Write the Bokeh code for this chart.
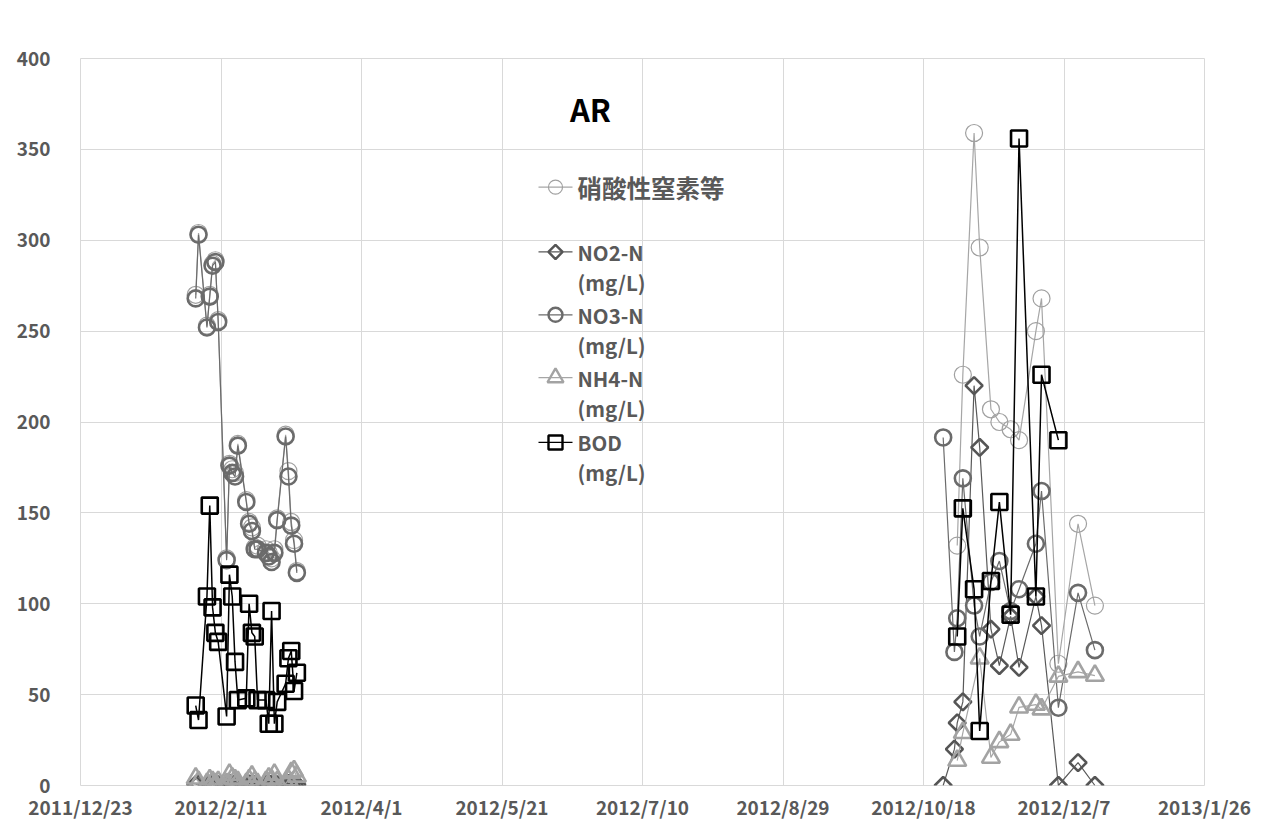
import math
import pandas as pd
from bokeh.plotting import figure
from bokeh.models import Range1d, FixedTicker
from bokeh.core.properties import value
from bokeh.embed import file_html
from bokeh.resources import INLINE

# ---------------- data ----------------
BASE = "2011-12-23"
TICK_STEP_DAYS = 50
N_TICKS = 9

dates_feb = ["2012-02-02", "2012-02-03", "2012-02-06", "2012-02-07", "2012-02-08", "2012-02-09",
             "2012-02-10", "2012-02-13", "2012-02-14", "2012-02-15", "2012-02-16", "2012-02-17",
             "2012-02-20", "2012-02-21", "2012-02-22", "2012-02-23", "2012-02-24", "2012-02-27",
             "2012-02-28", "2012-02-29", "2012-03-01", "2012-03-02", "2012-03-05", "2012-03-06",
             "2012-03-07", "2012-03-08", "2012-03-09"]
dates_nov = ["2012-10-25", "2012-10-29", "2012-10-30", "2012-11-01", "2012-11-05", "2012-11-07",
             "2012-11-11", "2012-11-14", "2012-11-18", "2012-11-21", "2012-11-27", "2012-11-29",
             "2012-12-05", "2012-12-12", "2012-12-18"]

total_feb = [270, 304, 253, 270, 287, 289, 256, 125, 177, 174, 172, 188, 157, 145, 142, 131, 132,
             130, 128, 125, 130, 147, 193, 173, 145, 135, 118]
total_nov = [None, None, 132, 226, 359, 296, 207, 200, 196, 190, 250, 268, 67, 144, 99]

no2_feb = [0.5, 1, 0.3, 0.8, 1, 0.5, 0.4, 0.6, 1.2, 0.8, 0.5, 0.3, 0.6, 0.9, 0.7, 0.4, 0.5, 0.8,
           1, 0.6, 0.4, 0.5, 0.7, 1.1, 0.8, 0.6, 0.5]
no2_nov = [0, 20, 34.5, 46, 220, 186, 86, 66, 93, 65, 104, 88, 0, 12.6, 0]

no3_feb = [268, 303, 252, 269, 286, 288, 255, 124, 176, 172, 170, 187, 156, 144, 140, 130, 130,
           128, 126, 123, 128, 146, 192, 170, 143, 133, 117]
no3_nov = [191.5, 73.5, 92, 169, 99, 82, 112, 123.5, 96, 108, 133, 162, 42.8, 106, 74.5]

nh4_feb = [4, 2, 1, 3, 2, 1, 2, 1, 6, 4, 3, 2, 1, 3, 5, 2, 1, 2, 4, 3, 6, 2, 1, 3, 7, 8, 5]
nh4_nov = [None, None, 13.7, 29, None, 70, 15.4, 24, 28, 43, 44.5, 42, 60, 62.5, 60.5]

bod_feb = [44, 36, 104, 154, 98, 84, 79, 38, 116, 104, 68, 47, 48, 100, 84, 82, 47, 47, 34, 96,
           34, 46, 56, 70, 74, 52, 62]
bod_nov = [None, None, 82, 152.5, 108, 30, 112.5, 156, 94, 356, 104, 226, 190, None, None]

y_ticks = [0, 50, 100, 150, 200, 250, 300, 350, 400]
title_text = "AR"

series = [
    dict(label=["硝酸性窒素等"], feb=total_feb, nov=total_nov, marker="circle", color="#a0a0a0",
         size=17, mlw=1.2, line_color="#a6a6a6", line_w=1.2, angle=0, lsize=14, llw=1.2),
    dict(label=["NO2-N", "(mg/L)"], feb=no2_feb, nov=no2_nov, marker="square", color="#555555",
         size=12, mlw=2.6, line_color="#595959", line_w=1.2, angle=math.pi / 4, lsize=10, llw=2.4),
    dict(label=["NO3-N", "(mg/L)"], feb=no3_feb, nov=no3_nov, marker="circle", color="#6b6b6b",
         size=16, mlw=2.6, line_color="#6b6b6b", line_w=1.2, angle=0, lsize=14, llw=2.4),
    dict(label=["NH4-N", "(mg/L)"], feb=nh4_feb, nov=nh4_nov, marker="triangle", color="#a3a3a3",
         size=18, mlw=2.6, line_color="#a6a6a6", line_w=1.2, angle=0, lsize=16, llw=2.4),
    dict(label=["BOD", "(mg/L)"], feb=bod_feb, nov=bod_nov, marker="square", color="#000000",
         size=16, mlw=2.6, line_color="#000000", line_w=1.5, angle=0, lsize=14, llw=2.4),
]

# ---------------- helpers ----------------
base_ts = pd.Timestamp(BASE)


def to_xy(dates, vals):
    xs, ys = [], []
    for d, v in zip(dates, vals):
        if v is not None:
            xs.append((pd.Timestamp(d) - base_ts).days)
            ys.append(v)
    return xs, ys


tick_days = [i * TICK_STEP_DAYS for i in range(N_TICKS)]
tick_labels = {}
for t in tick_days:
    d = base_ts + pd.Timedelta(days=t)
    tick_labels[t] = f"{d.year}/{d.month}/{d.day}"

# ---------------- figure ----------------
FRAME_W, FRAME_H = 1124, 729
p = figure(width=1262, height=822, x_range=Range1d(0, tick_days[-1]), y_range=Range1d(0, 400),
           output_backend="svg", toolbar_location=None,
           min_border_left=80, min_border_right=58, min_border_top=58, min_border_bottom=30)
p.outline_line_color = "#d9d9d9"
p.background_fill_color = "white"
p.border_fill_color = "white"

TICK_FONT = "Noto Sans CJK JP"
for ax in (p.xaxis, p.yaxis):
    ax.axis_line_color = None
    ax.major_tick_line_color = None
    ax.minor_tick_line_color = None
    ax.major_label_text_font = TICK_FONT
    ax.major_label_text_font_style = "bold"
    ax.major_label_text_color = "#595959"
p.xaxis.major_label_text_font_size = "19px"
p.yaxis.major_label_text_font_size = "19px"
p.xaxis.ticker = FixedTicker(ticks=tick_days)
p.xaxis.major_label_overrides = tick_labels
p.xaxis.major_label_standoff = 1
p.yaxis.ticker = FixedTicker(ticks=y_ticks)
p.yaxis.major_label_standoff = 24
p.xgrid.ticker = FixedTicker(ticks=tick_days)
p.ygrid.ticker = FixedTicker(ticks=y_ticks)
p.grid.grid_line_color = "#d9d9d9"
p.grid.grid_line_width = 1

# data
for s in series:
    for dates, vals in ((dates_feb, s["feb"]), (dates_nov, s["nov"])):
        xs, ys = to_xy(dates, vals)
        p.line(xs, ys, line_color=s["line_color"], line_width=s["line_w"])
    xs1, ys1 = to_xy(dates_feb, s["feb"])
    xs2, ys2 = to_xy(dates_nov, s["nov"])
    p.scatter(xs1 + xs2, ys1 + ys2, marker=s["marker"], size=s["size"], angle=s["angle"],
              line_color=s["color"], line_width=s["mlw"], fill_color=None)

# ---------------- title & legend (in frame pixel space) ----------------
p.extra_x_ranges = {"px": Range1d(0, FRAME_W)}
p.extra_y_ranges = {"px": Range1d(0, FRAME_H)}

p.text(x=[510], y=[679], text=[title_text], x_range_name="px", y_range_name="px",
       text_font=value("Noto Sans CJK JP"), text_font_style="bold", text_font_size="31px",
       text_color="#000000", text_align="center", text_baseline="middle")

row_y = [600, 535, 472, 409, 344]
LINE_GAP = 30
GLYPH_X0, GLYPH_X1 = 458, 492
TEXT_X = 497
for s, y0 in zip(series, row_y):
    p.line([GLYPH_X0, GLYPH_X1], [y0, y0], x_range_name="px", y_range_name="px",
           line_color=s["line_color"], line_width=1.2)
    p.scatter([(GLYPH_X0 + GLYPH_X1) / 2], [y0], x_range_name="px", y_range_name="px",
              marker=s["marker"], size=s["lsize"], angle=s["angle"], line_color=s["color"],
              line_width=s["llw"], fill_color=None)
    for k, line in enumerate(s["label"]):
        is_cjk = any(ord(c) > 0x2000 for c in line)
        p.text(x=[TEXT_X], y=[y0 - k * LINE_GAP], text=[line], x_range_name="px", y_range_name="px",
               text_font=value("Noto Sans CJK JP"), text_font_style="bold",
               text_font_size="24.5px" if is_cjk else "20.5px", text_color="#595959",
               text_align="left", text_baseline="middle")

open("out.html", "w").write(file_html(p, INLINE))
